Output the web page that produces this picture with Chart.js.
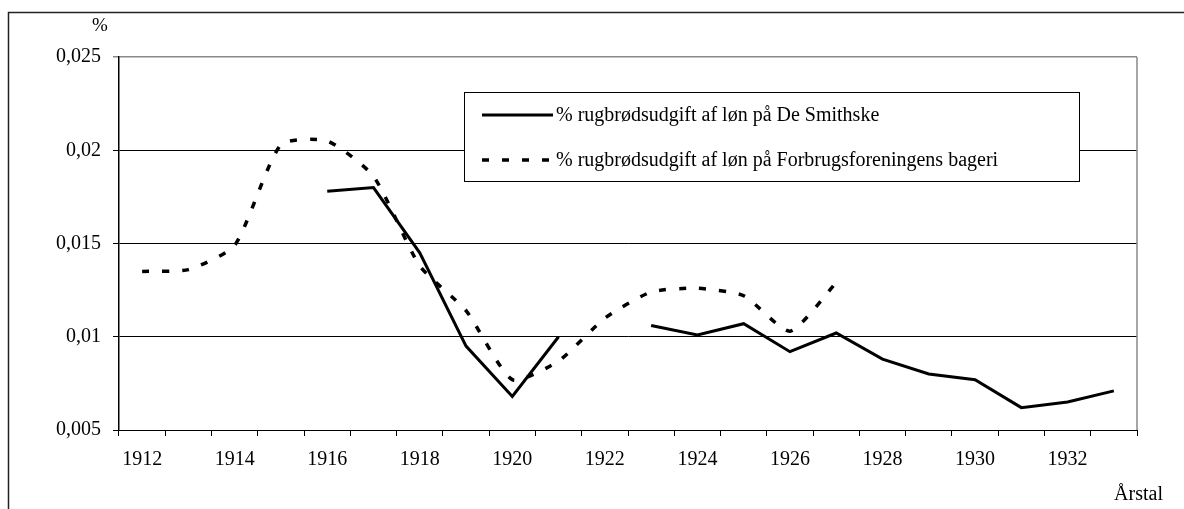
<!DOCTYPE html>
<html>
<head>
<meta charset="utf-8">
<script src="https://cdn.jsdelivr.net/npm/chart.js@4/dist/chart.umd.min.js"></script>
<style>
  html, body { margin: 0; padding: 0; background: #fff; }
  #wrap { position: relative; width: 1184px; height: 509px; }
</style>
</head>
<body>
<div id="wrap"><canvas id="chart" width="1184" height="509"></canvas></div>
<script>
// data
const years = ['1912', '1913', '1914', '1915', '1916', '1917', '1918', '1919', '1920', '1921', '1922',
    '1923', '1924', '1925', '1926', '1927', '1928', '1929', '1930', '1931', '1932', '1933']
const smithske = [null, null, null, null, 0.0178, 0.0180, 0.0145, 0.0095, 0.0068, 0.0100, null,
    0.0106, 0.0101, 0.0107, 0.0092, 0.0102, 0.0088, 0.0080, 0.0077, 0.0062, 0.0065, 0.0071]
const forbrug = [0.0135, 0.0136, 0.0149, 0.0203, 0.0205, 0.0186, 0.0138, 0.0114, 0.0077, 0.0087, 0.0110,
    0.0124, 0.0126, 0.0122, 0.0103, 0.0129, null, null, null, null, null, null]
const seriesNames = ['% rugbrødsudgift af løn på De Smithske',
    '% rugbrødsudgift af løn på Forbrugsforeningens bageri']
const yTicks = [0.005, 0.01, 0.015, 0.02, 0.025]

const FONT = '"Liberation Serif", "Times New Roman", serif'

// outer frame, plot frame and the boxed legend
const decor = {
    id: 'decor',
    beforeDraw(chart) {
        let c = chart.ctx
        c.save()
        c.fillStyle = '#fff'
        c.fillRect(0, 0, chart.width, chart.height)
        c.strokeStyle = '#222'
        c.lineWidth = 1.5
        c.strokeRect(8.5, 12.5, 1300, 700)
        c.fillStyle = '#000'
        c.font = '19px ' + FONT
        c.textAlign = 'center'
        c.textBaseline = 'middle'
        c.fillText('%', 100, 26)
        c.textAlign = 'right'
        c.font = '20px ' + FONT
        c.fillText('Årstal', 1163, 495)
        c.restore()
    },
    beforeDatasetsDraw(chart) {
        let a = chart.chartArea, c = chart.ctx
        c.save()
        c.strokeStyle = '#888'
        c.lineWidth = 1.5
        c.beginPath()
        c.moveTo(a.right, a.top)
        c.lineTo(a.right, a.bottom)
        c.stroke()
        c.restore()
    },
    afterDatasetsDraw(chart) {
        let c = chart.ctx
        let box = {x: 464.5, y: 92.5, w: 615, h: 89}
        c.save()
        c.fillStyle = '#fff'
        c.fillRect(box.x, box.y, box.w, box.h)
        c.strokeStyle = '#000'
        c.lineWidth = 1
        c.strokeRect(box.x, box.y, box.w, box.h)
        chart.data.datasets.forEach(function(ds, i) {
            let y = 115 + i * 45
            c.strokeStyle = ds.borderColor
            c.lineWidth = ds.borderWidth
            c.setLineDash(ds.borderDash || [])
            c.beginPath()
            c.moveTo(482, y)
            c.lineTo(553, y)
            c.stroke()
            c.setLineDash([])
            c.fillStyle = '#000'
            c.font = '20px ' + FONT
            c.textAlign = 'left'
            c.textBaseline = 'middle'
            c.fillText(ds.label, 556, y + 1)
        })
        c.restore()
    }
}

new Chart(document.getElementById('chart'), {
    type: 'line',
    data: {
        labels: years,
        datasets: [{
            label: seriesNames[0],
            data: smithske,
            borderColor: '#000',
            borderWidth: 3,
            pointRadius: 0,
            tension: 0,
            spanGaps: false
        }, {
            label: seriesNames[1],
            data: forbrug,
            borderColor: '#000',
            borderWidth: 3.5,
            borderDash: [7, 13],
            pointRadius: 0,
            tension: 0.2,
            spanGaps: false
        }]
    },
    options: {
        responsive: false,
        animation: false,
        layout: {padding: {left: 0, top: 57, right: 47, bottom: 0}},
        plugins: {legend: {display: false}, tooltip: {enabled: false}},
        scales: {
            x: {
                offset: true,
                grid: {offset: true, drawOnChartArea: false, drawTicks: true, tickLength: 6, color: '#000'},
                border: {color: '#000', width: 1},
                ticks: {
                    autoSkip: false,
                    maxRotation: 0,
                    padding: 12,
                    color: '#000',
                    font: {family: FONT, size: 20},
                    callback: function(v, i) { return i % 2 === 0 ? years[i] : '' }
                },
                afterFit: function(s) { s.height = 79 }
            },
            y: {
                min: yTicks[0],
                max: yTicks[yTicks.length - 1],
                afterBuildTicks: function(s) { s.ticks = yTicks.map(function(v) { return {value: v} }) },
                grid: {
                    tickLength: 6,
                    color: function(ctx) { return ctx.tick && ctx.tick.value === 0.025 ? '#888' : '#000' },
                    lineWidth: function(ctx) { return ctx.tick && ctx.tick.value === 0.025 ? 1.5 : 1 }
                },
                border: {color: '#000', width: 1.5},
                ticks: {
                    padding: 12,
                    color: '#000',
                    font: {family: FONT, size: 20},
                    callback: function(v) { return String(+v.toFixed(3)).replace('.', ',') }
                },
                afterFit: function(s) { s.width = 119 }
            }
        }
    },
    plugins: [decor]
})
</script>
</body>
</html>
